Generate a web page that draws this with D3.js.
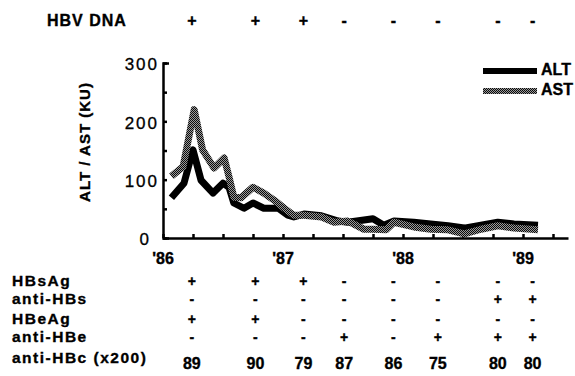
<!DOCTYPE html>
<html>
<head>
<meta charset="utf-8">
<script src="https://cdn.jsdelivr.net/npm/d3@7"></script>
<style>
  body { margin: 0; background: #fff; }
  text { font-family: "Liberation Sans", Arial, Helvetica, sans-serif; fill: #000; }
  text.b { font-weight: bold; stroke: #000; stroke-width: 0.35px; }
</style>
</head>
<body>
<script>
// liver enzymes, dates as decimal years
var altDates  = [1986.07, 1986.175, 1986.25, 1986.317, 1986.417, 1986.5, 1986.55, 1986.59, 1986.675, 1986.75, 1986.84, 1986.96, 1987.04, 1987.09, 1987.175, 1987.32, 1987.46, 1987.54, 1987.675, 1987.75, 1987.84, 1987.925, 1988.09, 1988.23, 1988.375, 1988.51, 1988.65, 1988.79, 1988.925, 1989.125];
var altValues = [69, 94, 151, 99, 77, 94, 87, 60, 51, 60, 51, 51, 39, 36, 41, 38, 29, 27, 31, 33, 22, 29, 27, 24, 21, 17, 22, 27, 24, 22];
var astDates  = [1986.07, 1986.167, 1986.26, 1986.33, 1986.425, 1986.51, 1986.55, 1986.59, 1986.65, 1986.75, 1986.84, 1986.925, 1987.01, 1987.09, 1987.175, 1987.32, 1987.425, 1987.54, 1987.675, 1987.75, 1987.86, 1987.925, 1988.09, 1988.23, 1988.375, 1988.51, 1988.65, 1988.79, 1988.925, 1989.125];
var astValues = [106, 122, 220, 151, 120, 137, 105, 70, 69, 87, 77, 65, 51, 39, 39, 36, 27, 29, 15, 15, 14, 27, 19, 15, 14, 7, 15, 21, 17, 14];

// serology at each sampling date
var sampleDates = [1986.24, 1986.77, 1987.17, 1987.51, 1987.92, 1988.29, 1988.79, 1989.08];
var hbvDna   = ["+", "+", "+", "-", "-", "-", "-", "-"];
var hbsAg    = ["+", "+", "+", "-", "-", "-", "-", "-"];
var antiHBs  = ["-", "-", "-", "-", "-", "-", "+", "+"];
var hbeAg    = ["+", "+", "-", "-", "-", "-", "-", "-"];
var antiHBe  = ["-", "-", "-", "+", "-", "+", "+", "+"];
var antiHBc  = [89, 90, 79, 87, 86, 75, 80, 80];
var rowNames = ["HBsAg", "anti-HBs", "HBeAg", "anti-HBe", "anti-HBc (x200)"];

var yTicks = [0, 100, 200, 300];
var yearTicks = [1986, 1987, 1988, 1989];
var yearLabels = ["'86", "'87", "'88", "'89"];
var seriesNames = ["ALT", "AST"];

var svg = d3.select("body").append("svg")
    .attr("width", 575)
    .attr("height", 376);

// stippled stroke for AST
var pat = svg.append("defs").append("pattern")
    .attr("id", "stip")
    .attr("patternUnits", "userSpaceOnUse")
    .attr("width", 2).attr("height", 2);
pat.append("rect").attr("width", 2).attr("height", 2).attr("fill", "#9a9a9a");
pat.append("rect").attr("width", 1).attr("height", 1).attr("fill", "#0a0a0a");
pat.append("rect").attr("x", 1).attr("y", 1).attr("width", 1).attr("height", 1).attr("fill", "#0a0a0a");

var x = d3.scaleLinear().domain([1986, 1989.375]).range([163, 568]);
var y = d3.scaleLinear().domain([0, 300]).range([238, 63]);

// axes
svg.append("g")
    .attr("transform", "translate(163,0)")
    .call(d3.axisRight(y).tickValues(d3.range(0, 301, 50)).tickSize(4).tickSizeOuter(6).tickFormat(""))
    .call(function (g) { g.selectAll("path, line").attr("stroke", "#000").attr("stroke-width", 2.5); });

svg.append("g")
    .attr("transform", "translate(0,238)")
    .call(d3.axisTop(x).tickValues(d3.range(1986, 1989.3, 0.25)).tickSize(4).tickSizeOuter(0).tickFormat(""))
    .call(function (g) { g.selectAll("path, line").attr("stroke", "#000").attr("stroke-width", 2.5); });

svg.selectAll(".ylab").data(yTicks).enter().append("text")
    .attr("class", "ylab")
    .attr("x", function (d) { return d === 0 ? 151 : 159; })
    .attr("y", function (d) { return y(d) + 3; })
    .attr("text-anchor", "end")
    .attr("dominant-baseline", "middle")
    .style("font-size", "17px")
    .style("letter-spacing", "2px")
    .style("stroke", "#000").style("stroke-width", "0.3px")
    .text(function (d) { return d; });

svg.selectAll(".xlab").data(yearTicks).enter().append("text")
    .attr("class", "xlab b")
    .attr("x", function (d) { return x(d); })
    .attr("y", 260)
    .attr("text-anchor", "middle")
    .attr("dominant-baseline", "middle")
    .style("font-size", "16px")
    .text(function (d, i) { return yearLabels[i]; });

svg.append("text")
    .attr("class", "b")
    .attr("transform", "translate(90,142) rotate(-90)")
    .attr("text-anchor", "middle")
    .style("font-size", "15px")
    .style("letter-spacing", "1px")
    .text("ALT / AST (KU)");

// curves
var line = d3.line()
    .x(function (d) { return x(d[0]); })
    .y(function (d) { return y(d[1]); });

svg.append("path")
    .datum(d3.zip(altDates, altValues))
    .attr("d", line)
    .attr("fill", "none")
    .attr("stroke", "#000")
    .attr("stroke-width", 7)
    .attr("stroke-linejoin", "round");

svg.append("path")
    .datum(d3.zip(astDates, astValues))
    .attr("d", line)
    .attr("fill", "none")
    .attr("stroke", "url(#stip)")
    .attr("stroke-width", 7)
    .attr("stroke-linejoin", "round");

// legend
var leg = svg.selectAll(".leg").data(seriesNames).enter().append("g")
    .attr("transform", function (d, i) { return "translate(483," + (71 + i * 20) + ")"; });
leg.append("line")
    .attr("x1", 0).attr("x2", 54)
    .attr("stroke", function (d, i) { return i === 0 ? "#000" : "url(#stip)"; })
    .attr("stroke-width", 6);
leg.append("text")
    .attr("class", "b")
    .attr("x", 58)
    .attr("dominant-baseline", "middle")
    .style("font-size", "16px")
    .text(function (d) { return d; });

// HBV DNA row on top
svg.append("text")
    .attr("class", "b")
    .attr("x", 47).attr("y", 22)
    .attr("dominant-baseline", "middle")
    .style("font-size", "16px").style("letter-spacing", "1px")
    .text("HBV  DNA");
svg.selectAll(".dna").data(hbvDna).enter().append("text")
    .attr("class", "b")
    .attr("x", function (d, i) { return x(sampleDates[i]); })
    .attr("y", 22)
    .attr("text-anchor", "middle")
    .attr("dominant-baseline", "middle")
    .style("font-size", "16px")
    .text(function (d) { return d; });

// serology table
var rows = [hbsAg, antiHBs, hbeAg, antiHBe, antiHBc];
var rowY = [282, 300, 320, 338, 359];
rows.forEach(function (r, k) {
  svg.append("text")
      .attr("class", "b")
      .attr("x", 12).attr("y", rowY[k])
      .attr("dominant-baseline", "middle")
      .style("font-size", "15.5px").style("letter-spacing", "1.5px")
      .text(rowNames[k]);
  svg.selectAll(".r" + k).data(r).enter().append("text")
      .attr("class", "b")
      .attr("x", function (d, i) { return x(sampleDates[i]); })
      .attr("y", k === 4 ? rowY[k] + 6 : rowY[k])
      .attr("text-anchor", "middle")
      .attr("dominant-baseline", "middle")
      .style("font-size", k === 4 ? "16px" : "14px")
      .text(function (d) { return d; });
});
</script>
</body>
</html>
